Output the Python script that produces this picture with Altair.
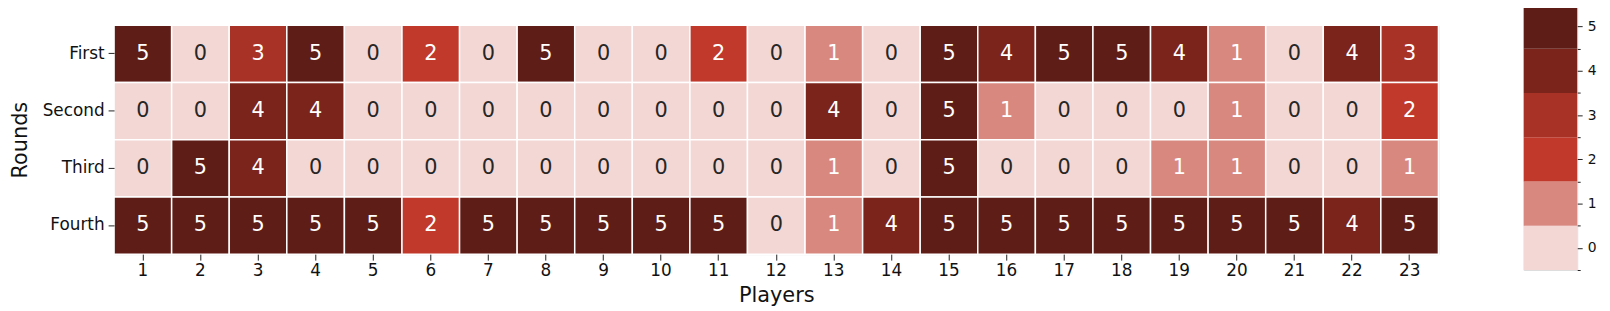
import altair as alt
import pandas as pd

rounds = ["First", "Second", "Third", "Fourth"]
players = list(range(1, 24))
first = [5, 0, 3, 5, 0, 2, 0, 5, 0, 0, 2, 0, 1, 0, 5, 4, 5, 5, 4, 1, 0, 4, 3]
second = [0, 0, 4, 4, 0, 0, 0, 0, 0, 0, 0, 0, 4, 0, 5, 1, 0, 0, 0, 1, 0, 0, 2]
third = [0, 5, 4, 0, 0, 0, 0, 0, 0, 0, 0, 0, 1, 0, 5, 0, 0, 0, 1, 1, 0, 0, 1]
fourth = [5, 5, 5, 5, 5, 2, 5, 5, 5, 5, 5, 0, 1, 4, 5, 5, 5, 5, 5, 5, 5, 4, 5]
levels = [0, 1, 2, 3, 4, 5]
colors = ["#f2d7d5", "#d98880", "#c0392b", "#a93226", "#7b241c", "#5e1d16"]

rows = []
for r, vals in zip(rounds, [first, second, third, fourth]):
    for p, v in zip(players, vals):
        rows.append({"Round": r, "Player": p, "v": v})
df = pd.DataFrame(rows)

FONT = "DejaVu Sans"
color_scale = alt.Scale(domain=levels, range=colors)

base = alt.Chart(df).encode(
    x=alt.X("Player:O", sort=players, title="Players",
            scale=alt.Scale(paddingInner=0, paddingOuter=0),
            axis=alt.Axis(labelAngle=0, labelFontSize=17, titleFontSize=21,
                          tickSize=6, labelPadding=3, titlePadding=6,
                          domain=False, tickColor="#222", labelColor="#111",
                          titleColor="#111", titleFontWeight="normal")),
    y=alt.Y("Round:N", sort=rounds, title="Rounds",
            scale=alt.Scale(paddingInner=0, paddingOuter=0),
            axis=alt.Axis(labelFontSize=17, titleFontSize=21, tickSize=6,
                          labelPadding=4, titlePadding=12, domain=False,
                          tickColor="#222", labelColor="#111",
                          titleColor="#111", titleFontWeight="normal")),
)

cells = base.mark_rect(stroke="white", strokeWidth=1.5).encode(
    color=alt.Color("v:O", scale=color_scale, legend=None)
)
labels = base.mark_text(fontSize=21, font=FONT, baseline="middle").encode(
    text=alt.Text("v:Q"),
    color=alt.condition("datum.v == 0", alt.value("#262626"), alt.value("white")),
)
heat = (cells + labels).properties(width=1336, height=231)

spacer = alt.Chart(pd.DataFrame({"a": [0]})).transform_filter("false").mark_point(
    opacity=0
).properties(width=1336, height=1)
left = alt.vconcat(spacer, heat, spacing=18)

cb_df = pd.DataFrame({"v": levels, "c": ["a"] * len(levels)})
ticks_vals = [-0.5, 0, 0.5, 1, 1.5, 2, 2.5, 3, 3.5, 4, 4.5, 5, 5.5]
cbar = alt.Chart(cb_df).transform_calculate(
    lo="datum.v - 0.5", hi="datum.v + 0.5"
).mark_rect().encode(
    x=alt.X("c:N", axis=None, scale=alt.Scale(paddingInner=0, paddingOuter=0)),
    y=alt.Y("lo:Q", title=None,
            scale=alt.Scale(domain=[-0.5, 5.5], nice=False, zero=False),
            axis=alt.Axis(orient="right", values=ticks_vals, domain=False,
                          grid=False, labelFontSize=14, labelPadding=5,
                          tickColor="#222", labelColor="#111",
                          tickSize={"condition": {"test": "datum.value % 1 == 0", "value": 5}, "value": 3},
                          labelExpr="datum.value % 1 == 0 ? format(datum.value, 'd') : ''")),
    y2="hi:Q",
    color=alt.Color("v:O", scale=color_scale, legend=None),
).properties(width=54, height=268)

chart = alt.hconcat(left, cbar, spacing=83).properties(
    padding={"left": 0, "top": -6, "right": 5, "bottom": 0}
).configure_view(strokeWidth=0).configure(font=FONT)

chart.save("out.html", embed_options={"renderer": "svg", "actions": False})
